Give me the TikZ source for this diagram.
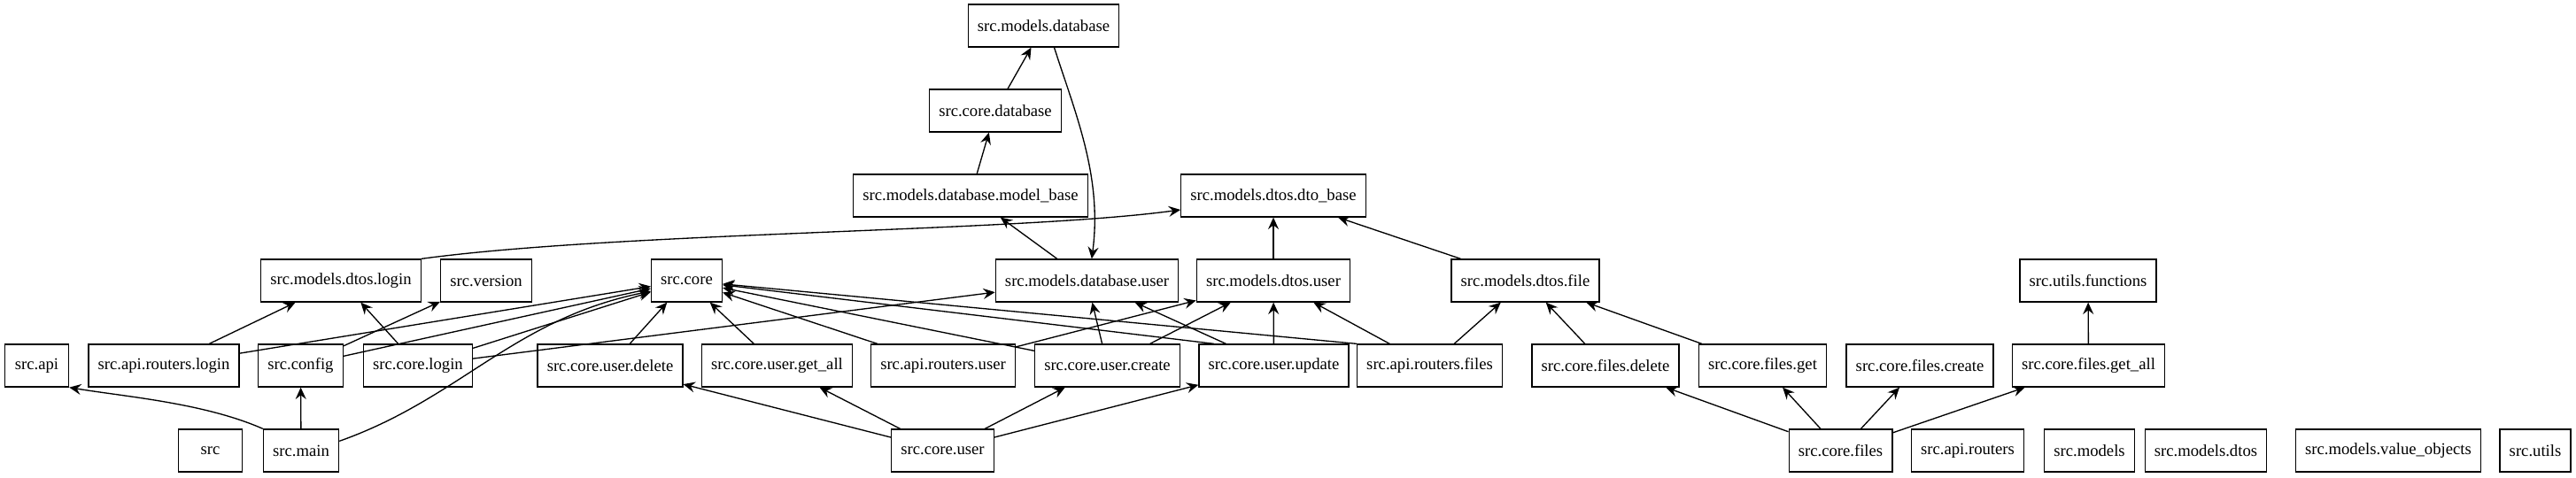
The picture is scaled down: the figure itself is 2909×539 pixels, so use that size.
\documentclass[tikz,border=0pt]{standalone}
\usepackage{fontspec}
\setmainfont{Liberation Serif}
\usetikzlibrary{arrows.meta}
\begin{document}
\begin{tikzpicture}[x=0.75pt,y=-0.75pt,
  mod/.style={draw,line width=1pt,minimum width=54pt,minimum height=36pt,inner xsep=8pt,inner ysep=0pt,font=\fontsize{14}{16}\selectfont},
  dep/.style={-{Stealth[length=10pt,width=9pt,inset=3.5pt]},line width=1pt}]
\useasboundingbox (0,0) rectangle (2909,539);
\node[mod] (Db) at (1178.5,29) {src.models.database};
\node[mod] (CoreDb) at (1124,125) {src.core.database};
\node[mod] (ModelBase) at (1096,221) {src.models.database.model\_base};
\node[mod] (DtoBase) at (1438,221) {src.models.dtos.dto\_base};
\node[mod] (DtosLogin) at (385,317) {src.models.dtos.login};
\node[mod] (Version) at (549,317) {src.version};
\node[mod] (Core) at (775.5,317) {src.core};
\node[mod] (DbUser) at (1227.5,317) {src.models.database.user};
\node[mod] (DtosUser) at (1438,317) {src.models.dtos.user};
\node[mod] (DtosFile) at (1722.5,317) {src.models.dtos.file};
\node[mod] (UtilsFunc) at (2358,317) {src.utils.functions};
\node[mod] (Api) at (41.5,413) {src.api};
\node[mod] (ApiLogin) at (185,413) {src.api.routers.login};
\node[mod] (Config) at (339.5,413) {src.config};
\node[mod] (CoreLogin) at (472,413) {src.core.login};
\node[mod] (UserDelete) at (689,413) {src.core.user.delete};
\node[mod] (UserGetAll) at (877.5,413) {src.core.user.get\_all};
\node[mod] (ApiUser) at (1065,413) {src.api.routers.user};
\node[mod] (UserCreate) at (1250.5,413) {src.core.user.create};
\node[mod] (UserUpdate) at (1438.5,413) {src.core.user.update};
\node[mod] (ApiFiles) at (1614.5,413) {src.api.routers.files};
\node[mod] (FilesDelete) at (1813,413) {src.core.files.delete};
\node[mod] (FilesGet) at (1990.5,413) {src.core.files.get};
\node[mod] (FilesCreate) at (2168,413) {src.core.files.create};
\node[mod] (FilesGetAll) at (2358.5,413) {src.core.files.get\_all};
\node[mod] (Src) at (237.5,509) {src};
\node[mod] (Main) at (340,509) {src.main};
\node[mod] (CoreUser) at (1064.5,509) {src.core.user};
\node[mod] (CoreFiles) at (2078.5,509) {src.core.files};
\node[mod] (ApiRouters) at (2222,509) {src.api.routers};
\node[mod] (Models) at (2359.5,509) {src.models};
\node[mod] (ModelsDtos) at (2491,509) {src.models.dtos};
\node[mod] (ValueObjects) at (2697,509) {src.models.value\_objects};
\node[mod] (Utils) at (2863,509) {src.utils};
\draw[dep] (DbUser) -- (ModelBase);
\draw[dep] ([xshift=9pt]Db.south) .. controls (1215,130) and (1245,200) .. ([xshift=4pt]DbUser.north);
\draw[dep] (CoreDb) -- (Db);
\draw[dep] (ModelBase) -- (CoreDb);
\draw[dep] (DtosLogin.north east) .. controls (700,262) and (1150,262) .. ([yshift=-12pt]DtoBase.west);
\draw[dep] (DtosUser) -- (DtoBase);
\draw[dep] (DtosFile) -- (DtoBase);
\draw[dep] (ApiLogin) -- (DtosLogin);
\draw[dep] (ApiLogin) -- (Core);
\draw[dep] (Config) -- (Version);
\draw[dep] (Config) -- (Core);
\draw[dep] (CoreLogin) -- (DtosLogin);
\draw[dep] (CoreLogin) -- (Core);
\draw[dep] (CoreLogin) -- (DbUser);
\draw[dep] (Main.north west) .. controls (230,455) and (140,448) .. (Api.south east);
\draw[dep] (Main) -- (Config);
\draw[dep] ([yshift=8pt]Main.east) .. controls (520,450) and (580,360) .. ([yshift=-9pt]Core.west);
\draw[dep] (UserDelete) -- (Core);
\draw[dep] (UserGetAll) -- (Core);
\draw[dep] (ApiUser) -- (Core);
\draw[dep] (ApiUser) -- (DtosUser);
\draw[dep] (UserCreate) -- (Core);
\draw[dep] (UserCreate) -- (DbUser);
\draw[dep] (UserCreate) -- (DtosUser);
\draw[dep] (UserUpdate.160) -- (Core);
\draw[dep] (UserUpdate) -- (DbUser);
\draw[dep] (UserUpdate) -- (DtosUser);
\draw[dep] (ApiFiles.north west) -- (Core);
\draw[dep] (ApiFiles) -- (DtosUser);
\draw[dep] (ApiFiles) -- (DtosFile);
\draw[dep] (CoreUser) -- (UserDelete);
\draw[dep] (CoreUser) -- (UserGetAll);
\draw[dep] (CoreUser) -- (UserCreate);
\draw[dep] (CoreUser) -- (UserUpdate);
\draw[dep] (FilesDelete) -- (DtosFile);
\draw[dep] (FilesGet) -- (DtosFile);
\draw[dep] (CoreFiles) -- (FilesDelete);
\draw[dep] (CoreFiles) -- (FilesGet);
\draw[dep] (CoreFiles) -- (FilesCreate);
\draw[dep] (CoreFiles) -- (FilesGetAll);
\draw[dep] (FilesGetAll) -- (UtilsFunc);
\end{tikzpicture}
\end{document}
